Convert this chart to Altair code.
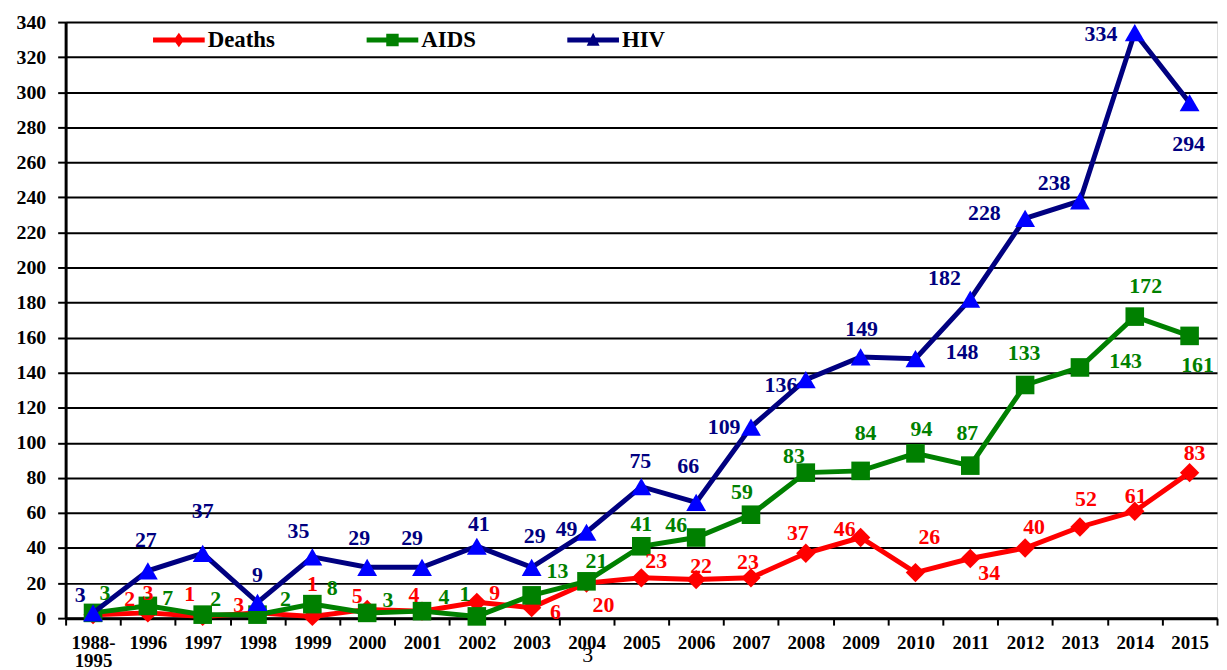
import altair as alt
import pandas as pd

# ---------------- data ----------------
categories = ["1988-1995", "1996", "1997", "1998", "1999", "2000", "2001", "2002",
              "2003", "2004", "2005", "2006", "2007", "2008", "2009", "2010",
              "2011", "2012", "2013", "2014", "2015"]
deaths = [2, 3, 1, 3, 1, 5, 4, 9, 6, 20, 23, 22, 23, 37, 46, 26, 34, 40, 52, 61, 83]
aids = [3, 7, 2, 2, 8, 3, 4, 1, 13, 21, 41, 46, 59, 83, 84, 94, 87, 133, 143, 172, 161]
hiv = [3, 27, 37, 9, 35, 29, 29, 41, 29, 49, 75, 66, 109, 136, 149, 148, 182, 228, 238, 334, 294]
series_names = ["Deaths", "AIDS", "HIV"]
y_ticks = list(range(0, 341, 20))

# ---------------- label nudges (pixels, layout only) ----------------
deaths_dx = [37, 0, -13, -19, 0, -10, -8, 18, 24, 17, 15, 5, -3, -8, -16, 14, 19, 9, 6, 1, 5]
deaths_dy = [-16, -20, -23, -8, -33, -13, -16, -9, 4, 22, -17, -14, -16, -20, -9, -36, 15, -21, -28, -15, -20]
aids_dx = [12, 20, 13, 28, 20, 21, 22, -12, 26, 10, 0, -20, -9, -12, 5, 6, -3, -1, 46, 11, 8]
aids_dy = [-20, -8, -16, -16, -16, -13, -14, -22, -24, -20, -22, -13, -23, -17, -38, -24, -33, -32, -6, -31, 29]
hiv_dx = [-13, -2, 0, 0, -14, -8, -10, 2, 3, -20, -1, -8, -27, -25, 1, 47, -26, -41, -26, -34, -1]
hiv_dy = [-18, -31, -43, -28, -26, -29, -29, -22, -31, -3, -26, -37, 0, 5, -28, -7, -21, -5, -18, 1, 42]

PLOT_W, PLOT_H, Y_MAX = 1159, 600, 340
HALF_BAND = PLOT_W / len(categories) / 2

rows = []
for s, vals, dxs, dys in zip(series_names, [deaths, aids, hiv],
                             [deaths_dx, aids_dx, hiv_dx], [deaths_dy, aids_dy, hiv_dy]):
    for c, v, dx, dy in zip(categories, vals, dxs, dys):
        rows.append({"category": c, "series": s, "value": v, "dx": dx, "dy": dy})
df = pd.DataFrame(rows)

FONT = "Liberation Serif"
line_colors = ["#FF0000", "#008000", "#000080"]
marker_fills = ["#FF0000", "#008000", "#0000FF"]
marker_shapes = {"Deaths": "diamond", "AIDS": "square", "HIV": "triangle-up"}
marker_sizes = {"Deaths": 380, "AIDS": 350, "HIV": 400}

color_scale = alt.Scale(domain=series_names, range=line_colors)
fill_scale = alt.Scale(domain=series_names, range=marker_fills)
legend_paths = [
    "M-1,-0.1H1V0.1H-1Z M0,-0.28L0.2,0L0,0.28L-0.2,0Z",
    "M-1,-0.1H1V0.1H-1Z M-0.24,-0.24H0.24V0.24H-0.24Z",
    "M-1,-0.1H1V0.1H-1Z M0,-0.28L0.25,0.22L-0.25,0.22Z",
]
shape_scale = alt.Scale(domain=series_names, range=legend_paths)

legend = alt.Legend(
    title=None, orient="none", legendX=88, legendY=-8, direction="horizontal",
    columns=3, columnPadding=92, symbolSize=2704, labelFont=FONT, labelFontSize=23,
    labelFontWeight="bold", labelColor="black", labelOffset=3, padding=0,
    symbolStrokeWidth=0, symbolOpacity=1,
)

x_enc = alt.X(
    "category:N", sort=categories, title=None,
    scale=alt.Scale(type="band", paddingInner=0, paddingOuter=0),
    bandPosition=0.5,
    axis=alt.Axis(
        labelAngle=0, labelFont=FONT, labelFontSize=19, labelFontWeight="bold",
        labelColor="black", tickBand="extent", tickSize=7, tickWidth=2,
        tickColor="black", domainColor="black", domainWidth=3, labelPadding=9,
        labelLineHeight=18, grid=False,
        labelExpr="datum.value == '1988-1995' ? ['1988-', '1995'] : datum.label",
    ),
)
y_scale = alt.Scale(domain=[0, Y_MAX], nice=False, zero=True)
y_axis = alt.Axis(
    values=y_ticks, labelFont=FONT, labelFontSize=20, labelFontWeight="bold",
    labelColor="black", tickSize=8, tickWidth=2, tickColor="black",
    domainColor="black", domainWidth=3, labelPadding=12,
    grid=True, gridColor="black", gridWidth=2, gridOpacity=1,
)
y_enc = alt.Y("value:Q", title=None, scale=y_scale, axis=y_axis)

base = alt.Chart(df)
layers = []
for s in series_names:
    sub = base.transform_filter(alt.datum.series == s)
    layers.append(
        sub.mark_line(strokeWidth=5).encode(
            x=x_enc, y=y_enc,
            color=alt.Color("series:N", scale=color_scale, legend=None),
        )
    )
    layers.append(
        sub.mark_point(filled=True, opacity=1, shape=marker_shapes[s],
                       size=marker_sizes[s], strokeWidth=0).encode(
            x=x_enc, y=y_enc,
            fill=alt.Fill("series:N", scale=fill_scale, legend=None),
        )
    )

labels = base.transform_calculate(
    label_y=f"datum.value - datum.dy * {Y_MAX} / {PLOT_H}",
    label_dx=f"datum.dx + {HALF_BAND}",
).mark_text(font=FONT, fontSize=22, fontWeight="bold",
            align="center", baseline="middle").encode(
    x=x_enc,
    y=alt.Y("label_y:Q", title=None, scale=y_scale, axis=y_axis),
    xOffset=alt.XOffset("label_dx:Q", scale=None),
    text=alt.Text("value:Q"),
    color=alt.Color("series:N", scale=color_scale, legend=None),
)
layers.append(labels)

# legend-only layer (draws nothing; supplies the combined line+marker legend)
legend_layer = base.transform_filter("false").mark_point(
    filled=True, opacity=1, strokeWidth=0).encode(
    x=x_enc, y=y_enc,
    color=alt.Color("series:N", scale=color_scale, legend=legend),
    shape=alt.Shape("series:N", scale=shape_scale, legend=legend),
)
layers.append(legend_layer)

chart = alt.layer(*layers).resolve_legend(
    color="independent", shape="independent"
).properties(
    width=PLOT_W, height=PLOT_H,
    title=alt.TitleParams("3", orient="bottom", anchor="middle", frame="group",
                          dx=-54, offset=-26, font=FONT, fontSize=22,
                          fontWeight="normal", color="black"),
    autosize=alt.AutoSizeParams(type="none"),
    padding={"left": 58, "top": 12, "right": 2, "bottom": 48},
).configure_view(stroke="black", strokeWidth=2).configure(background="white")

chart.save("out.html", embed_options={"renderer": "svg", "actions": False})
